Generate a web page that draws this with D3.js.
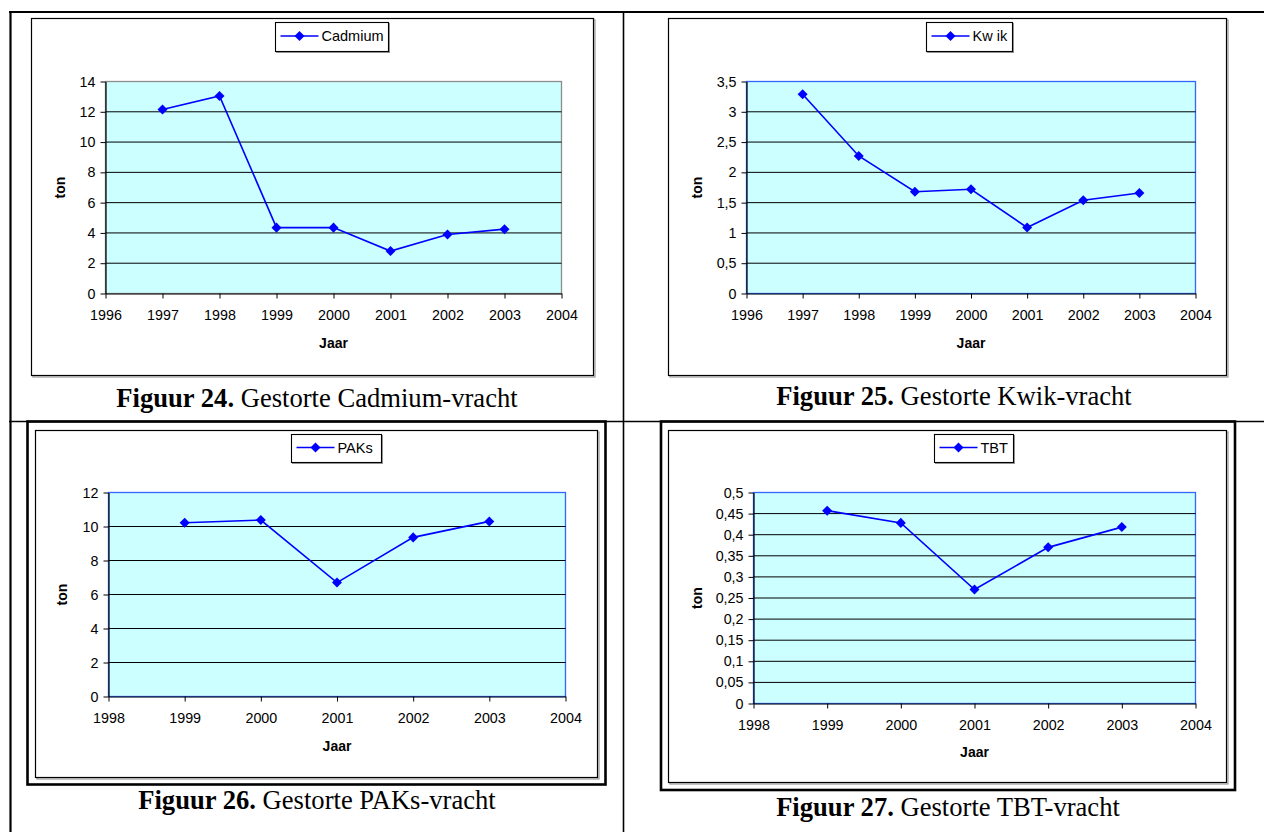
<!DOCTYPE html>
<html>
<head>
<meta charset="utf-8">
<script src="https://cdn.jsdelivr.net/npm/d3@7/dist/d3.min.js"></script>
<style>
html,body{margin:0;padding:0;background:#fff;}
svg{display:block;}
text{font-family:"Liberation Sans",Arial,sans-serif;}
</style>
</head>
<body>
<svg id="c" width="1264" height="832"></svg>
<script>
// ---- data ----
const yearsA = [1997, 1998, 1999, 2000, 2001, 2002, 2003];
const yearsB = [1999, 2000, 2001, 2002, 2003];
const cadmium = [12.15, 13.05, 4.35, 4.35, 2.8, 3.9, 4.25];
const kwik = [3.29, 2.27, 1.68, 1.72, 1.09, 1.54, 1.66];
const paks = [10.22, 10.38, 6.7, 9.36, 10.3];
const tbt = [0.457, 0.428, 0.27, 0.37, 0.418];
const xTicksA = [1996, 1997, 1998, 1999, 2000, 2001, 2002, 2003, 2004];
const xTicksB = [1998, 1999, 2000, 2001, 2002, 2003, 2004];
const yTicksCd = [0, 2, 4, 6, 8, 10, 12, 14];
const yTicksHg = [0, 0.5, 1, 1.5, 2, 2.5, 3, 3.5];
const yTicksPak = [0, 2, 4, 6, 8, 10, 12];
const yTicksTbt = [0, 0.05, 0.1, 0.15, 0.2, 0.25, 0.3, 0.35, 0.4, 0.45, 0.5];
const seriesNames = ["Cadmium", "Kw ik", "PAKs", "TBT"];
const figNumbers = ["Figuur 24.", "Figuur 25.", "Figuur 26.", "Figuur 27."];
const figTitles = ["Gestorte Cadmium-vracht", "Gestorte Kwik-vracht", "Gestorte PAKs-vracht", "Gestorte TBT-vracht"];
const xTitle = "Jaar";
const yTitle = "ton";

const fmt = d3.formatLocale({decimal: ",", thousands: ".", grouping: [3], currency: ["€", ""]}).format("~g");

const svg = d3.select("#c");

// ---- table lines ----
const tbl = svg.append("g");
tbl.append("line").attr("x1", 9).attr("x2", 1264).attr("y1", 12).attr("y2", 12).attr("stroke", "#000").attr("stroke-width", 2.2);
tbl.append("line").attr("x1", 10.5).attr("x2", 10.5).attr("y1", 11).attr("y2", 832).attr("stroke", "#000").attr("stroke-width", 2.2);
tbl.append("line").attr("x1", 623.5).attr("x2", 623.5).attr("y1", 12).attr("y2", 832).attr("stroke", "#000").attr("stroke-width", 1.6);
tbl.append("line").attr("x1", 9).attr("x2", 1264).attr("y1", 421.5).attr("y2", 421.5).attr("stroke", "#000").attr("stroke-width", 1.6);

// ---- chart layout ----
const charts = [
  {years: yearsA, vals: cadmium, xt: xTicksA, yt: yTicksCd,
   frame: [31.5, 18.5, 593.5, 375.5], outer: null,
   plot: [105.5, 81.5, 561.5, 293.5], legend: [275.5, 22.5, 388.5, 51.5],
   border: "#8c8c8c", tonX: 60, jaarY: 343, capX: 317, capY: 406.5},
  {years: yearsA, vals: kwik, xt: xTicksA, yt: yTicksHg,
   frame: [668.5, 18.5, 1226.5, 375.5], outer: null,
   plot: [746.5, 81.5, 1195.5, 293.5], legend: [926.5, 22.5, 1012.5, 51.5],
   border: "#3366ff", tonX: 697, jaarY: 343, capX: 954, capY: 405},
  {years: yearsB, vals: paks, xt: xTicksB, yt: yTicksPak,
   frame: [35.5, 430.5, 597.5, 777.5], outer: [27.5, 421.5, 605.5, 784.5],
   plot: [108.5, 492.5, 565.5, 696.5], legend: [291.5, 434.5, 381.5, 462.5],
   border: "#3366ff", tonX: 62, jaarY: 746.5, capX: 317, capY: 809},
  {years: yearsB, vals: tbt, xt: xTicksB, yt: yTicksTbt,
   frame: [668.5, 430.5, 1226.5, 782.5], outer: [661, 421.5, 1235, 790],
   plot: [753.5, 492.5, 1195.5, 703.5], legend: [934.5, 434.5, 1013.5, 462.5],
   border: "#3366ff", tonX: 697, jaarY: 752.5, capX: 948, capY: 816}
];

const diamond = d3.symbol().type(d3.symbolDiamond2).size(64);

charts.forEach((c, i) => {
  const g = svg.append("g");
  if (c.outer) {
    const o = c.outer;
    g.append("rect").attr("x", o[0]).attr("y", o[1]).attr("width", o[2] - o[0]).attr("height", o[3] - o[1])
      .attr("fill", "none").attr("stroke", "#000").attr("stroke-width", 2.6);
  }
  const f = c.frame;
  // shadow
  g.append("rect").attr("x", f[0] + 1.5).attr("y", f[1] + 1.5).attr("width", f[2] - f[0]).attr("height", f[3] - f[1])
    .attr("fill", "none").attr("stroke", "#999").attr("stroke-width", 1.2);
  g.append("rect").attr("x", f[0]).attr("y", f[1]).attr("width", f[2] - f[0]).attr("height", f[3] - f[1])
    .attr("fill", "#fff").attr("stroke", "#000").attr("stroke-width", 1.2);

  const p = c.plot;
  const x = d3.scaleLinear().domain([c.xt[0], c.xt[c.xt.length - 1]]).range([p[0], p[2]]);
  const y = d3.scaleLinear().domain([0, c.yt[c.yt.length - 1]]).range([p[3], p[1]]);

  g.append("rect").attr("x", p[0]).attr("y", p[1]).attr("width", p[2] - p[0]).attr("height", p[3] - p[1])
    .attr("fill", "#ccffff").attr("stroke", c.border).attr("stroke-width", 1.3);

  // gridlines
  g.append("g").selectAll("line").data(c.yt.slice(1, -1)).join("line")
    .attr("x1", p[0]).attr("x2", p[2]).attr("y1", d => y(d)).attr("y2", d => y(d))
    .attr("stroke", "#000").attr("stroke-width", 1);

  // axes
  const ya = g.append("g").attr("transform", `translate(${p[0]},0)`)
    .call(d3.axisLeft(y).tickValues(c.yt).tickFormat(fmt).tickSize(5).tickPadding(5).tickSizeOuter(0));
  const xa = g.append("g").attr("transform", `translate(0,${p[3]})`)
    .call(d3.axisBottom(x).tickValues(c.xt).tickFormat(d3.format("d")).tickSize(5).tickPadding(11).tickSizeOuter(0));
  [ya, xa].forEach(a => {
    a.selectAll("text").attr("font-size", 14.3).attr("fill", "#000").attr("font-family", '"Liberation Sans",Arial,sans-serif');
    a.selectAll("line").attr("stroke", "#000");
    a.select(".domain").attr("stroke", "#000").attr("stroke-width", 1.2);
  });

  // axis titles
  g.append("text").attr("transform", `translate(${c.tonX},${(p[1] + p[3]) / 2}) rotate(-90)`)
    .attr("text-anchor", "middle").attr("dy", "0.35em").attr("font-size", 14).attr("font-weight", "bold").text(yTitle);
  g.append("text").attr("x", (p[0] + p[2]) / 2).attr("y", c.jaarY).attr("dy", "0.35em")
    .attr("text-anchor", "middle").attr("font-size", 14).attr("font-weight", "bold").text(xTitle);

  // series line
  const pts = c.years.map((yr, k) => [yr, c.vals[k]]);
  g.append("path").datum(pts)
    .attr("d", d3.line().x(d => x(d[0])).y(d => y(d[1])))
    .attr("fill", "none").attr("stroke", "#0000ff").attr("stroke-width", 1.6);
  g.append("g").selectAll("path").data(pts).join("path")
    .attr("transform", d => `translate(${x(d[0])},${y(d[1])})`)
    .attr("d", diamond).attr("fill", "#0000ff");

  // legend
  const L = c.legend;
  g.append("rect").attr("x", L[0] + 1).attr("y", L[1] + 1).attr("width", L[2] - L[0]).attr("height", L[3] - L[1])
    .attr("fill", "none").attr("stroke", "#999").attr("stroke-width", 1);
  g.append("rect").attr("x", L[0]).attr("y", L[1]).attr("width", L[2] - L[0]).attr("height", L[3] - L[1])
    .attr("fill", "#fff").attr("stroke", "#000").attr("stroke-width", 1.1);
  const ly = (L[1] + L[3]) / 2 - 1;
  g.append("line").attr("x1", L[0] + 5).attr("x2", L[0] + 43).attr("y1", ly).attr("y2", ly)
    .attr("stroke", "#0000ff").attr("stroke-width", 1.6);
  g.append("path").attr("transform", `translate(${L[0] + 24},${ly})`).attr("d", diamond).attr("fill", "#0000ff");
  g.append("text").attr("x", L[0] + 46).attr("y", ly).attr("dy", "0.35em").attr("font-size", 14.5).text(seriesNames[i]);

  // caption
  const cap = svg.append("text").attr("x", c.capX).attr("y", c.capY).attr("text-anchor", "middle")
    .attr("font-family", '"Liberation Serif","Times New Roman",serif').attr("font-size", 26.6);
  cap.append("tspan").attr("font-weight", "bold").attr("font-family", '"Liberation Serif","Times New Roman",serif').text(figNumbers[i]);
  cap.append("tspan").attr("font-family", '"Liberation Serif","Times New Roman",serif').text(" " + figTitles[i]);
});
</script>
</body>
</html>
